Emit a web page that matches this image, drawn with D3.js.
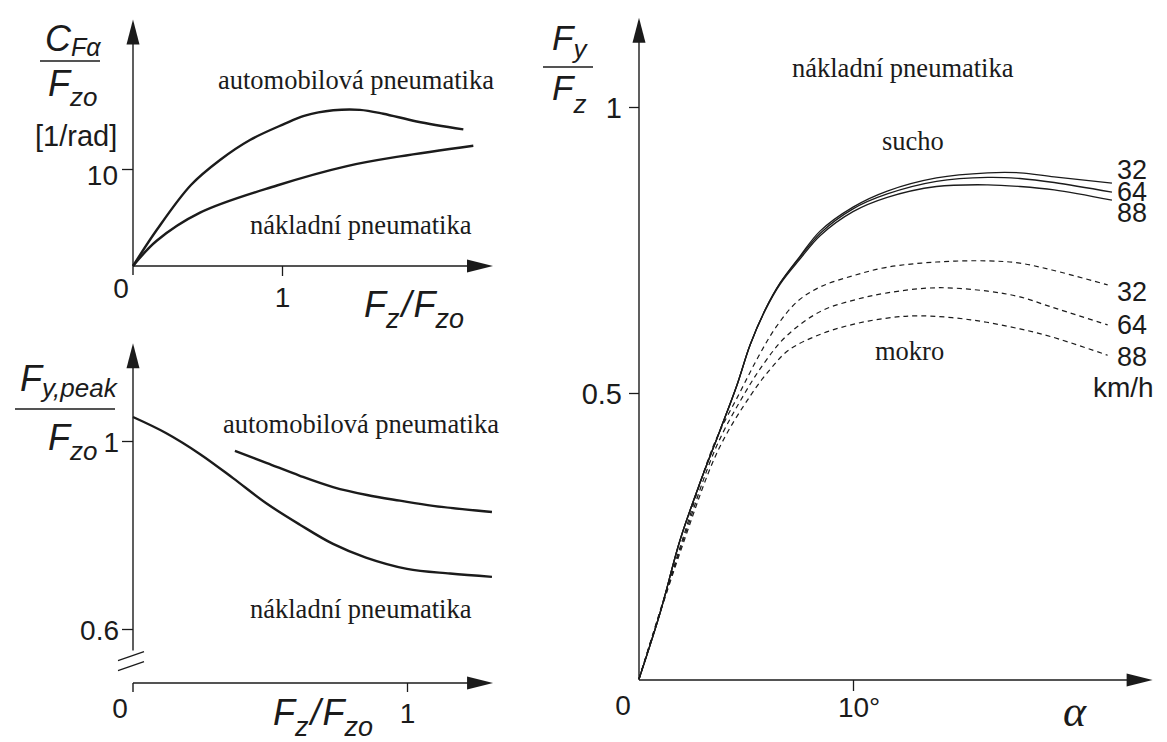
<!DOCTYPE html>
<html>
<head>
<meta charset="utf-8">
<script src="https://cdn.jsdelivr.net/npm/d3@7"></script>
<style>
body { margin: 0; background: #fff; }
svg { display: block; }
</style>
</head>
<body>
<svg id="chart" width="1167" height="742"></svg>
<script>
// --- cornering stiffness / nominal load vs. load ratio (top left)
const stiffCarX = [0, 0.159, 0.389, 0.584, 0.785, 1.009, 1.154, 1.344, 1.523, 1.680, 1.904, 2.217];
const stiffCar = [0, 3.71, 8.35, 10.93, 12.99, 14.6, 15.5, 16.05, 16.1, 15.7, 14.9, 14.09];
const stiffTruckX = [0, 0.159, 0.450, 0.966, 1.436, 1.792, 2.284];
const stiffTruck = [0, 2.6, 5.5, 8.3, 10.3, 11.3, 12.4];

// --- peak side force / nominal load vs. load ratio (bottom left)
const peakCarX = [0.372, 0.489, 0.609, 0.730, 0.854, 0.974, 1.095, 1.310];
const peakCar = [0.979, 0.953, 0.926, 0.902, 0.885, 0.873, 0.862, 0.849];
const peakTruckX = [0, 0.120, 0.245, 0.365, 0.485, 0.609, 0.73, 0.85, 1.0, 1.157, 1.31];
const peakTruck = [1.051, 1.017, 0.972, 0.921, 0.868, 0.822, 0.781, 0.752, 0.728, 0.718, 0.711];

// --- truck tyre Fy/Fz vs slip angle (right), dry = solid, wet = dashed
const dryX = [0, 0.98, 1.92, 2.85, 3.79, 4.58, 5.19, 5.89, 6.59, 7.52, 8.46, 10.0, 11.6, 13.9, 16.3, 17.8, 19.4, 22.1];
const dry32 = [0, 0.115, 0.243, 0.343, 0.435, 0.514, 0.584, 0.645, 0.692, 0.739, 0.783, 0.825, 0.853, 0.876, 0.885, 0.885, 0.878, 0.867];
const dry64 = [0, 0.115, 0.243, 0.343, 0.435, 0.514, 0.584, 0.645, 0.692, 0.737, 0.779, 0.822, 0.848, 0.870, 0.877, 0.875, 0.868, 0.851];
const dry88 = [0, 0.115, 0.243, 0.343, 0.435, 0.514, 0.584, 0.644, 0.690, 0.734, 0.775, 0.817, 0.842, 0.861, 0.864, 0.861, 0.855, 0.837];
const wet32X = [0, 2, 3.5, 4.7, 5.6, 6.4, 7.4, 8.5, 10, 11.6, 13.9, 16.3, 17.8, 19.3, 21.9];
const wet32 = [0, 0.24, 0.41, 0.50, 0.565, 0.615, 0.660, 0.686, 0.705, 0.720, 0.729, 0.731, 0.727, 0.715, 0.689];
const wet64X = [0, 2, 3.6, 4.95, 5.9, 6.9, 8.5, 10, 11.6, 13.9, 16.3, 17.8, 19.3, 21.9];
const wet64 = [0, 0.235, 0.405, 0.50, 0.555, 0.600, 0.643, 0.662, 0.675, 0.684, 0.678, 0.668, 0.650, 0.619];
const wet88X = [0, 2, 3.7, 5.2, 6.1, 7.0, 8.5, 10, 11.6, 13.1, 15.5, 17.8, 19.3, 21.9];
const wet88 = [0, 0.23, 0.40, 0.495, 0.540, 0.575, 0.603, 0.620, 0.631, 0.635, 0.628, 0.612, 0.598, 0.566];
const speedLabels = ['32', '64', '88'];

const serif = '"Liberation Serif", "Times New Roman", serif';
const sans = '"Liberation Sans", Arial, sans-serif';
const ink = '#1b1b1b';

const svg = d3.select('#chart');
const zip = (a, b) => a.map((v, i) => [v, b[i]]);
const curve = (x, y) => d3.line().x(d => x(d[0])).y(d => y(d[1])).curve(d3.curveCatmullRom.alpha(0.5));

function frame(x, y, xTip, yTip, yAt, yFrom) {
    // axis lines with filled arrow heads
    const ox = x(0), oy = yAt, tx = x(xTip), ty = y(yTip);
    const g = svg.append('g').attr('stroke', ink).attr('stroke-width', 1.4);
    g.append('line').attr('x1', ox).attr('y1', oy).attr('x2', tx - 20).attr('y2', oy);
    g.append('line').attr('x1', ox).attr('y1', yFrom).attr('x2', ox).attr('y2', ty + 20);
    svg.append('path').attr('fill', ink)
        .attr('d', `M${tx},${oy}L${tx - 26},${oy - 6.5}L${tx - 26},${oy + 6.5}Z`);
    svg.append('path').attr('fill', ink)
        .attr('d', `M${ox},${ty}L${ox - 6.5},${ty + 25}L${ox + 6.5},${ty + 25}Z`);
}

function ticks(axis, tx, ty, dy, size) {
    const g = svg.append('g').attr('transform', `translate(${tx},${ty})`).call(axis);
    g.select('.domain').remove();
    g.selectAll('line').attr('stroke', ink).attr('stroke-width', 1.3);
    g.selectAll('text').attr('fill', ink).style('font-family', sans).style('font-size', size + 'px');
    if (dy) g.selectAll('text').attr('dy', dy);
    return g;
}

function txt(x, y, s, font, size, extra) {
    const t = svg.append('text').attr('x', x).attr('y', y).attr('fill', ink)
        .style('font-family', font).style('font-size', size + 'px').text(s);
    if (extra) extra(t);
    return t;
}

// symbol with subscript, e.g. F_zo
function sym(x, y, main, sub, size, subSize, drop) {
    const t = svg.append('text').attr('x', x).attr('y', y).attr('fill', ink)
        .style('font-family', sans).style('font-style', 'italic').style('font-size', size + 'px');
    t.append('tspan').text(main);
    t.append('tspan').attr('dy', drop).style('font-size', subSize + 'px').text(sub);
    return t;
}

// load ratio label  F_z / F_zo
function loadRatio(x, y) {
    const t = sym(x, y, 'F', 'z', 36, 27, 11);
    t.append('tspan').attr('dy', -11).attr('dx', 2).style('font-size', '36px').text('/');
    t.append('tspan').attr('dx', 2).style('font-size', '36px').text('F');
    t.append('tspan').attr('dy', 11).style('font-size', '27px').text('zo');
}

function fracBar(x1, x2, y) {
    svg.append('line').attr('x1', x1).attr('x2', x2).attr('y1', y).attr('y2', y)
        .attr('stroke', ink).attr('stroke-width', 1.5);
}

// ================= top left =================
const x1 = d3.scaleLinear().domain([0, 1]).range([133, 282]);
const y1 = d3.scaleLinear().domain([0, 10]).range([266, 169]);
frame(x1, y1, 2.416, 25.4, y1(0), y1(0) + 9);
ticks(d3.axisBottom(x1).tickValues([1]).tickFormat(d3.format('d')).tickSize(10).tickPadding(11), 0, y1(0), null, 28);
ticks(d3.axisLeft(y1).tickValues([10]).tickFormat(d3.format('d')).tickSize(11).tickPadding(4), x1(0), 0, '0.57em', 28);
txt(x1(0) - 12, y1(0) + 32, '0', sans, 28, t => t.attr('text-anchor', 'middle'));

[[stiffCarX, stiffCar], [stiffTruckX, stiffTruck]].forEach(([xs, ys]) => {
    svg.append('path').datum(zip(xs, ys)).attr('fill', 'none').attr('stroke', ink)
        .attr('stroke-width', 2.4).attr('d', curve(x1, y1));
});
txt(218, 89, 'automobilová pneumatika', serif, 26.5);
txt(250, 234, 'nákladní pneumatika', serif, 26.5);

sym(45, 51, 'C', 'Fα', 36, 25, 5);
fracBar(40, 100, 61);
sym(48, 96, 'F', 'zo', 36, 26, 10);
txt(35, 146, '[1/rad]', sans, 29);
loadRatio(364, 317);

// ================= bottom left =================
const x2 = d3.scaleLinear().domain([0, 1]).range([133, 407]);
const y2 = d3.scaleLinear().domain([0.6, 1]).range([629, 441]);
const baseY2 = 683; // x axis sits below the broken y axis
frame(x2, y2, 1.314, 1.208, baseY2, y2(0.554));
svg.append('line').attr('x1', x2(0)).attr('x2', x2(0)).attr('y1', baseY2).attr('y2', baseY2 + 9)
    .attr('stroke', ink).attr('stroke-width', 1.4);
[0, 10].forEach(o => {
    svg.append('line').attr('x1', x2(0) - 15).attr('y1', y2(0.554) + 10 + o)
        .attr('x2', x2(0) + 11).attr('y2', y2(0.554) + 1 + o)
        .attr('stroke', ink).attr('stroke-width', 1.3);
});
ticks(d3.axisBottom(x2).tickValues([1]).tickFormat(d3.format('d')).tickSize(9).tickPadding(11), 0, baseY2, null, 28);
ticks(d3.axisLeft(y2).tickValues([1, 0.6]).tickFormat(d => d === 1 ? '1' : '0.6').tickSize(11).tickPadding(3),
    x2(0), 0, '0.39em', 28);
txt(x2(0) - 13, baseY2 + 35, '0', sans, 28, t => t.attr('text-anchor', 'middle'));

[[peakCarX, peakCar], [peakTruckX, peakTruck]].forEach(([xs, ys]) => {
    svg.append('path').datum(zip(xs, ys)).attr('fill', 'none').attr('stroke', ink)
        .attr('stroke-width', 2.4).attr('d', curve(x2, y2));
});
txt(223, 433, 'automobilová pneumatika', serif, 26.5);
txt(250, 618, 'nákladní pneumatika', serif, 26.5);

sym(20, 391, 'F', 'y,peak', 36, 26, 6);
fracBar(15, 115, 409);
sym(48, 450, 'F', 'zo', 36, 26, 10);
loadRatio(273, 725);

// ================= right =================
const x3 = d3.scaleLinear().domain([0, 10]).range([639, 853]);
const y3 = d3.scaleLinear().domain([0, 1]).range([679, 107]);
frame(x3, y3, 24, 1.156, y3(0) + 1, y3(0) + 1);
ticks(d3.axisBottom(x3).tickValues([10]).tickFormat(d => d + '°').tickSize(11).tickPadding(6), 0, y3(0) + 1, null, 28)
    .selectAll('text').attr('dx', '0.2em');
ticks(d3.axisLeft(y3).tickValues([1, 0.5]).tickFormat(d => d === 1 ? '1' : '0.5').tickSize(10).tickPadding(7),
    x3(0), 0, '0.36em', 29);
txt(x3(0) - 16, y3(0) + 36, '0', sans, 28, t => t.attr('text-anchor', 'middle'));

[dry32, dry64, dry88].forEach(ys => {
    svg.append('path').datum(zip(dryX, ys)).attr('fill', 'none').attr('stroke', ink)
        .attr('stroke-width', 1.3).attr('d', curve(x3, y3));
});
[[wet32X, wet32], [wet64X, wet64], [wet88X, wet88]].forEach(([xs, ys]) => {
    svg.append('path').datum(zip(xs, ys)).attr('fill', 'none').attr('stroke', ink)
        .attr('stroke-width', 1.2).attr('stroke-dasharray', '5,4').attr('d', curve(x3, y3));
});

speedLabels.forEach((s, i) => txt(1117, 179 + i * 21.5, s, sans, 27));
speedLabels.forEach((s, i) => txt(1117, 301 + i * 32.5, s, sans, 27));
txt(1093, 397, 'km/h', sans, 28);

txt(792, 77, 'nákladní pneumatika', serif, 26.5);
txt(882, 150, 'sucho', serif, 26.5);
txt(875, 360, 'mokro', serif, 26.5);
txt(1063, 726, 'α', serif, 44, t => t.style('font-style', 'italic'));

sym(552, 50, 'F', 'y', 35, 26, 8);
fracBar(543, 593, 67);
sym(552, 100, 'F', 'z', 35, 26, 13);
</script>
</body>
</html>
